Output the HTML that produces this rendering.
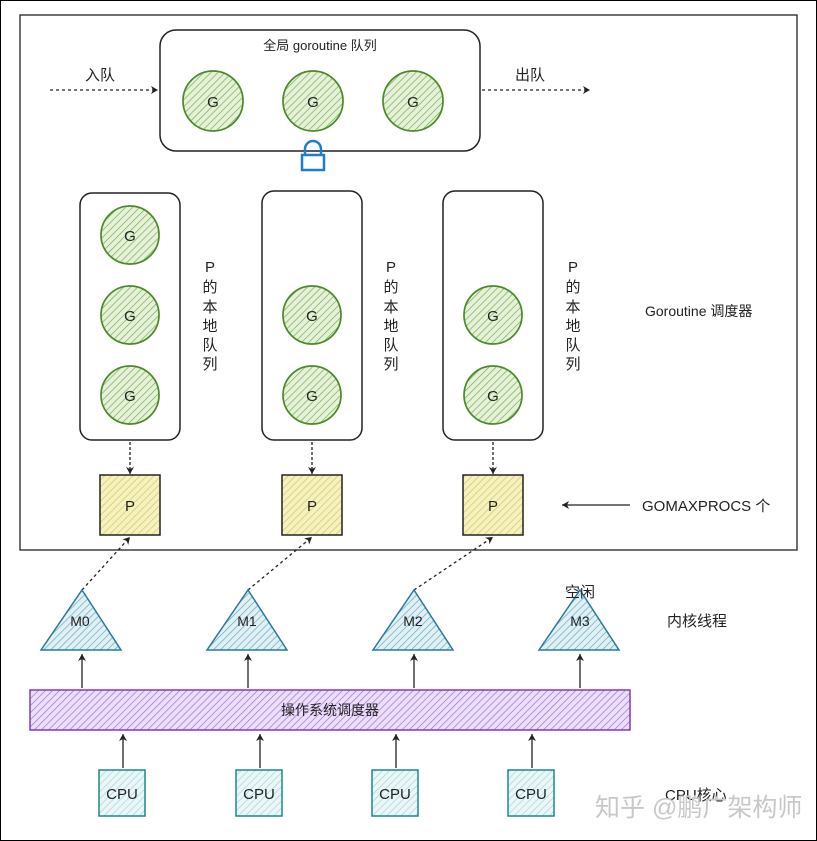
<!DOCTYPE html>
<html><head><meta charset="utf-8"><style>
html,body{margin:0;padding:0;background:#fff}
svg{display:block}
text{font-family:"Liberation Sans","Noto Sans CJK SC",sans-serif;fill:#222}
</style></head><body>
<svg width="817" height="841" viewBox="0 0 817 841" xmlns="http://www.w3.org/2000/svg">
<defs>
<pattern id="hg" width="5" height="5" patternUnits="userSpaceOnUse" patternTransform="rotate(45)"><rect width="5" height="5" fill="#e6f1da"/><line x1="0" y1="0" x2="0" y2="5" stroke="#78ad52" stroke-width="1.4"/></pattern>
<pattern id="hy" width="5" height="5" patternUnits="userSpaceOnUse" patternTransform="rotate(45)"><rect width="5" height="5" fill="#f6f2c0"/><line x1="0" y1="0" x2="0" y2="5" stroke="#d0c760" stroke-width="1.4"/></pattern>
<pattern id="hb" width="5" height="5" patternUnits="userSpaceOnUse" patternTransform="rotate(45)"><rect width="5" height="5" fill="#e0f0f5"/><line x1="0" y1="0" x2="0" y2="5" stroke="#68abc0" stroke-width="1.4"/></pattern>
<pattern id="hp" width="5" height="5" patternUnits="userSpaceOnUse" patternTransform="rotate(45)"><rect width="5" height="5" fill="#ecdffa"/><line x1="0" y1="0" x2="0" y2="5" stroke="#a070de" stroke-width="1.4"/></pattern>
<pattern id="hc" width="5" height="5" patternUnits="userSpaceOnUse" patternTransform="rotate(45)"><rect width="5" height="5" fill="#eaf6f7"/><line x1="0" y1="0" x2="0" y2="5" stroke="#a0d0d6" stroke-width="1.2"/></pattern>
<marker id="ar" markerWidth="8" markerHeight="8" refX="7" refY="4" orient="auto" markerUnits="userSpaceOnUse"><path d="M0,0 L7,4 L0,8 L2,4 Z" fill="#222"/></marker>
</defs>
<rect x="0.5" y="0.5" width="816" height="840" fill="#fff" stroke="#000" stroke-width="1"/>
<rect x="20" y="15" width="777" height="535" fill="none" stroke="#222" stroke-width="1.3"/>

<!-- global queue -->
<rect x="160" y="30" width="320" height="121" rx="16" fill="none" stroke="#222" stroke-width="1.5"/>
<text x="320" y="50" font-size="13" text-anchor="middle">全局 goroutine 队列</text>
<g stroke="#4a8a28" stroke-width="1.7" fill="url(#hg)">
<circle cx="213" cy="101" r="30"/><circle cx="313" cy="101" r="30"/><circle cx="413" cy="101" r="30"/>
</g>
<g font-size="15" text-anchor="middle"><text x="213" y="107">G</text><text x="313" y="107">G</text><text x="413" y="107">G</text></g>
<line x1="50" y1="90" x2="158" y2="90" stroke="#222" stroke-width="1.3" stroke-dasharray="3,3" marker-end="url(#ar)"/>
<line x1="482" y1="90" x2="590" y2="90" stroke="#222" stroke-width="1.3" stroke-dasharray="3,3" marker-end="url(#ar)"/>
<text x="100" y="80" font-size="15" text-anchor="middle">入队</text>
<text x="530" y="80" font-size="15" text-anchor="middle">出队</text>
<!-- lock -->
<path d="M305,155 v-6 a8,8 0 0 1 16,0 v6" fill="none" stroke="#1f7ecb" stroke-width="2.5"/>
<rect x="302" y="155" width="22" height="15" fill="#fff" stroke="#1f7ecb" stroke-width="2.5"/>

<!-- local queues -->
<g fill="none" stroke="#222" stroke-width="1.5">
<rect x="80" y="193" width="100" height="247" rx="12"/>
<rect x="262" y="191" width="100" height="249" rx="12"/>
<rect x="443" y="191" width="100" height="249" rx="12"/>
</g>
<g stroke="#4a8a28" stroke-width="1.7" fill="url(#hg)">
<circle cx="130" cy="235" r="29"/><circle cx="130" cy="315" r="29"/><circle cx="130" cy="395" r="29"/>
<circle cx="312" cy="315" r="29"/><circle cx="312" cy="395" r="29"/>
<circle cx="493" cy="315" r="29"/><circle cx="493" cy="395" r="29"/>
</g>
<g font-size="15" text-anchor="middle">
<text x="130" y="241">G</text><text x="130" y="321">G</text><text x="130" y="401">G</text>
<text x="312" y="321">G</text><text x="312" y="401">G</text>
<text x="493" y="321">G</text><text x="493" y="401">G</text>
</g>
<g font-size="15" text-anchor="middle">
<text x="210" y="272">P</text><text x="210" y="292">的</text><text x="210" y="312">本</text><text x="210" y="331">地</text><text x="210" y="350">队</text><text x="210" y="369">列</text>
<text x="391" y="272">P</text><text x="391" y="292">的</text><text x="391" y="312">本</text><text x="391" y="331">地</text><text x="391" y="350">队</text><text x="391" y="369">列</text>
<text x="573" y="272">P</text><text x="573" y="292">的</text><text x="573" y="312">本</text><text x="573" y="331">地</text><text x="573" y="350">队</text><text x="573" y="369">列</text>
</g>
<g stroke="#222" stroke-width="1.3" stroke-dasharray="3,2">
<line x1="130" y1="442" x2="130" y2="474" marker-end="url(#ar)"/>
<line x1="312" y1="442" x2="312" y2="474" marker-end="url(#ar)"/>
<line x1="493" y1="442" x2="493" y2="474" marker-end="url(#ar)"/>
</g>
<g fill="url(#hy)" stroke="#222" stroke-width="1.5">
<rect x="100" y="475" width="60" height="60"/><rect x="282" y="475" width="60" height="60"/><rect x="463" y="475" width="60" height="60"/>
</g>
<g font-size="15" text-anchor="middle"><text x="130" y="511">P</text><text x="312" y="511">P</text><text x="493" y="511">P</text></g>
<text x="645" y="316" font-size="14">Goroutine 调度器</text>
<text x="642" y="511" font-size="15">GOMAXPROCS 个</text>
<line x1="630" y1="505" x2="562" y2="505" stroke="#222" stroke-width="1.3" marker-end="url(#ar)"/>

<!-- M triangles -->
<g stroke="#222" stroke-width="1.3" stroke-dasharray="3,3">
<line x1="82" y1="590" x2="130" y2="537" marker-end="url(#ar)"/>
<line x1="248" y1="590" x2="312" y2="537" marker-end="url(#ar)"/>
<line x1="414" y1="590" x2="493" y2="537" marker-end="url(#ar)"/>
</g>
<g fill="url(#hb)" stroke="#2a7a9a" stroke-width="1.5">
<polygon points="82,590 121,650 41,650"/><polygon points="248,590 287,650 207,650"/>
<polygon points="414,590 453,650 373,650"/><polygon points="580,590 619,650 539,650"/>
</g>
<g font-size="14" text-anchor="middle"><text x="80" y="626">M0</text><text x="247" y="626">M1</text><text x="413" y="626">M2</text><text x="580" y="626">M3</text></g>
<text x="580" y="597" font-size="15" text-anchor="middle">空闲</text>
<text x="667" y="626" font-size="15">内核线程</text>
<g stroke="#222" stroke-width="1.3">
<line x1="82" y1="688" x2="82" y2="654" marker-end="url(#ar)"/>
<line x1="248" y1="688" x2="248" y2="654" marker-end="url(#ar)"/>
<line x1="414" y1="688" x2="414" y2="654" marker-end="url(#ar)"/>
<line x1="580" y1="688" x2="580" y2="654" marker-end="url(#ar)"/>
</g>
<rect x="30" y="690" width="600" height="40" fill="url(#hp)" stroke="#7d3cc8" stroke-width="1.5"/>
<text x="330" y="715" font-size="14" text-anchor="middle">操作系统调度器</text>
<g stroke="#222" stroke-width="1.3">
<line x1="123" y1="768" x2="123" y2="734" marker-end="url(#ar)"/>
<line x1="260" y1="768" x2="260" y2="734" marker-end="url(#ar)"/>
<line x1="396" y1="768" x2="396" y2="734" marker-end="url(#ar)"/>
<line x1="532" y1="768" x2="532" y2="734" marker-end="url(#ar)"/>
</g>
<g fill="url(#hc)" stroke="#1a8a8a" stroke-width="1.5">
<rect x="99" y="770" width="46" height="46"/><rect x="236" y="770" width="46" height="46"/>
<rect x="372" y="770" width="46" height="46"/><rect x="508" y="770" width="46" height="46"/>
</g>
<g font-size="15" text-anchor="middle"><text x="122" y="799">CPU</text><text x="259" y="799">CPU</text><text x="395" y="799">CPU</text><text x="531" y="799">CPU</text></g>
<text x="665" y="800" font-size="15">CPU核心</text>
<text x="595" y="816" font-size="25" style="fill:#c8c8c8">知乎 @鹏广架构师</text>
</svg>
</body></html>
